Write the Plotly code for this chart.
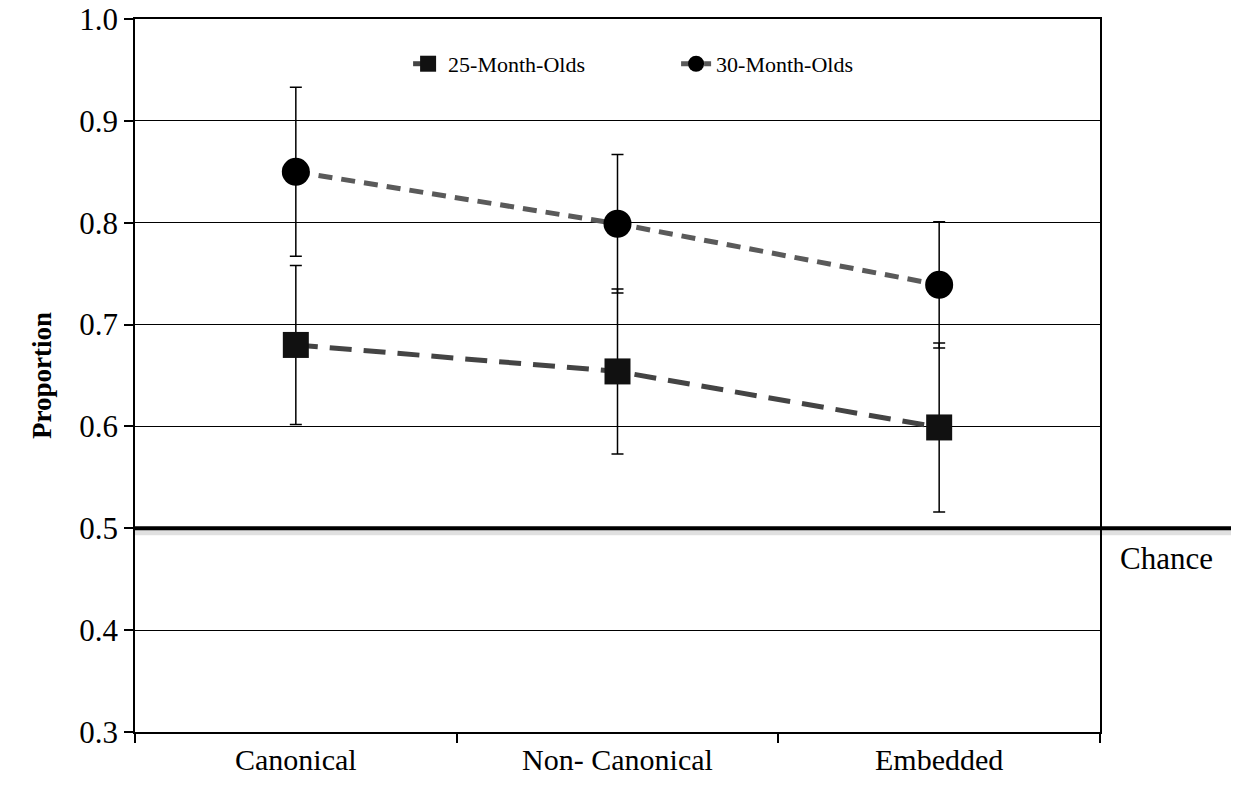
import plotly.graph_objects as go

categories = ["Canonical", "Non- Canonical", "Embedded"]
m25 = [0.680, 0.654, 0.599]
m25_err = [0.078, 0.081, 0.083]
m30 = [0.850, 0.799, 0.739]
m30_err = [0.083, 0.068, 0.062]
y_ticks = [0.3, 0.4, 0.5, 0.6, 0.7, 0.8, 0.9, 1.0]
chance = 0.5

FONT = "Liberation Serif, Times New Roman, serif"

fig = go.Figure()
fig.add_trace(go.Scatter(
    x=categories, y=m25, name="25-Month-Olds", mode="lines+markers",
    line=dict(color="#444444", width=5, dash="22px,12px"),
    marker=dict(symbol="square", size=26, color="#111111"),
    error_y=dict(type="data", array=m25_err, color="black", thickness=1.5, width=6),
))
fig.add_trace(go.Scatter(
    x=categories, y=m30, name="30-Month-Olds", mode="lines+markers",
    line=dict(color="#5a5a5a", width=5, dash="14px,9px"),
    marker=dict(symbol="circle", size=28, color="black"),
    error_y=dict(type="data", array=m30_err, color="black", thickness=1.5, width=6),
))

# chance line with soft shadow
fig.add_shape(type="line", xref="paper", yref="y", x0=0, x1=1.138,
              y0=chance - 0.004, y1=chance - 0.004,
              line=dict(color="rgba(0,0,0,0.12)", width=6), layer="above")
fig.add_shape(type="line", xref="paper", yref="y", x0=0, x1=1.138,
              y0=chance, y1=chance, line=dict(color="black", width=4), layer="above")
fig.add_annotation(text="Chance", xref="paper", yref="y", x=1.069, y=chance,
                   yshift=-30, xanchor="center", yanchor="middle", showarrow=False,
                   font=dict(family=FONT, size=31, color="black"))

fig.update_layout(
    width=1231, height=780,
    margin=dict(l=127, r=139, t=11, b=56),
    paper_bgcolor="white", plot_bgcolor="white",
    font=dict(family=FONT, color="black"),
    showlegend=True,
    legend=dict(orientation="h", x=0.283, y=0.937, xanchor="left", yanchor="middle",
                font=dict(family=FONT, size=22, color="black"),
                bgcolor="rgba(0,0,0,0)", entrywidth=223, entrywidthmode="pixels"),
    xaxis=dict(type="category", range=[-0.5, 2.5], tickson="boundaries",
               ticks="outside", ticklen=9, tickwidth=1.5, tickcolor="black",
               automargin=False,
               showline=True, linecolor="black", linewidth=1.5, mirror=True,
               showgrid=False, tickfont=dict(family=FONT, size=30, color="black")),
    yaxis=dict(range=[0.3, 1.0], tickvals=y_ticks, ticktext=[f"{v:.1f}" for v in y_ticks],
               ticks="outside", ticklen=9, tickwidth=1.5, tickcolor="black",
               ticklabeloverflow="allow", automargin=False,
               showline=True, linecolor="black", linewidth=1.5, mirror=True,
               showgrid=True, gridcolor="black", gridwidth=1.2, zeroline=False,
               tickfont=dict(family=FONT, size=31, color="black"),
               title=dict(text="<b>Proportion</b>", standoff=20,
                          font=dict(family=FONT, size=27, color="black"))),
)

fig.write_html("out.html")
